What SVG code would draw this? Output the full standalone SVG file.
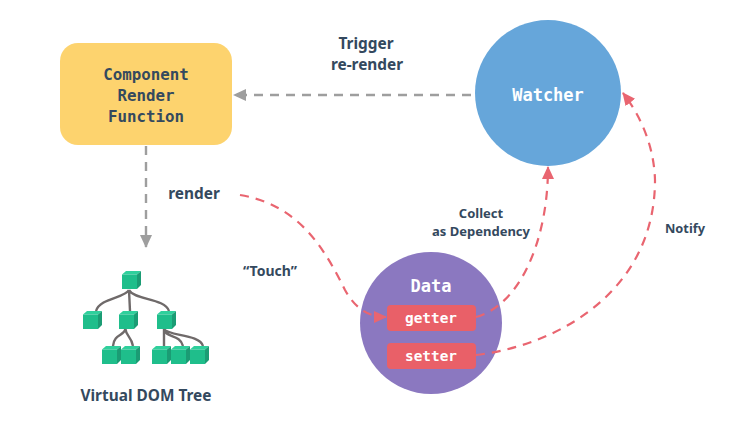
<svg xmlns="http://www.w3.org/2000/svg" width="743" height="428" viewBox="0 0 743 428">
<style>
text{text-anchor:middle}
.m{font-family:"DejaVu Sans Mono","Liberation Mono",monospace;font-weight:700}
.s{font-family:"Noto Sans","Open Sans",sans-serif;font-weight:700;fill:#34495e}
.g{fill:none;stroke:#9e9e9e;stroke-width:2.4;stroke-dasharray:9 7}
.r{fill:none;stroke:#e96570;stroke-width:2.2;stroke-dasharray:9 7}
.t{fill:none;stroke:#6f6a6a;stroke-width:2.4}
.f{fill:#1fbe8b}.p{fill:#1b9c74}.q{fill:#2fd09c}
</style>
<defs>
<marker id="ag" markerUnits="userSpaceOnUse" markerWidth="14" markerHeight="14" refX="12" refY="6" orient="auto"><path d="M0 0L13 6L0 12L0 0Z" fill="#9e9e9e"/></marker>
<marker id="ar" markerUnits="userSpaceOnUse" markerWidth="14" markerHeight="14" refX="12" refY="6" orient="auto"><path d="M0 0L13 6L0 12L0 0Z" fill="#e96570"/></marker>
<g id="cube"><path class="q" d="M0 3.500L4 0H19L15 3.500Z"/><path class="p" d="M15 3.500L19 0V14L15 18Z"/><rect class="f" x="0" y="3.500" width="15" height="14.500"/></g>
</defs>
<g id="watcher"><circle cx="548" cy="93" r="73" fill="#66a6da"/><text class="m" x="548" y="101" font-size="17" fill="#fff">Watcher</text></g>
<g id="render-function"><rect x="60" y="43" width="172" height="102" rx="18" fill="#fdd36e"/>
<text class="m" font-size="15.800" fill="#34495e"><tspan x="146" y="80">Component</tspan><tspan x="146" y="101">Render</tspan><tspan x="146" y="122">Function</tspan></text></g>
<g id="data"><circle cx="431" cy="323" r="71" fill="#8b78c0"/><text class="m" x="431" y="292" font-size="17" fill="#fff">Data</text>
<rect x="387" y="305" width="89" height="26" rx="4" fill="#e96068"/><text class="m" x="431" y="323" font-size="14.400" fill="#fff">getter</text>
<rect x="387" y="343" width="89" height="26" rx="4" fill="#e96068"/><text class="m" x="431" y="361" font-size="14.400" fill="#fff">setter</text></g>
<g id="tree">
<path class="t" d="M129 290C125 298 100 298 96 311M129 290L130 311M129 290C134 300 165 298 169 311M125.500 329C124 336 114 334 113 346M125.500 329C126 336 131 336 133 346M164 329V346M164 329C165 338 180 334 183 346M164 329C168 336 200 334 203 346"/>
<use href="#cube" x="122" y="271"/><use href="#cube" x="83" y="311"/><use href="#cube" x="119" y="311"/><use href="#cube" x="157" y="311"/>
<use href="#cube" x="102" y="346"/><use href="#cube" x="121" y="346"/><use href="#cube" x="152" y="346"/><use href="#cube" x="171" y="346"/><use href="#cube" x="190" y="346"/>
<text class="s" x="146" y="401" font-size="15.400">Virtual DOM Tree</text></g>
<g id="connectors">
<path class="g" marker-end="url(#ag)" d="M471 95H234"/>
<path class="g" marker-end="url(#ag)" d="M146 146V247"/>
<path class="r" marker-end="url(#ar)" d="M240 195C300 205 325 250 345 290C355 308 368 317 386 317"/>
<path class="r" marker-end="url(#ar)" d="M476 317C520 305 548 240 548 167"/>
<path class="r" marker-end="url(#ar)" d="M476 355C560 345 655 290 655 180C654 145 640 115 623 93"/>
</g>
<g id="labels">
<text class="s" font-size="15.400" x="366" y="49">Trigger</text><text class="s" font-size="15.400" x="367" y="70">re-render</text>
<text class="s" font-size="15.400" x="194" y="199">render</text>
<text class="s" font-size="13" x="481" y="218">Collect</text><text class="s" font-size="13" x="481" y="236">as Dependency</text>
<text class="s" font-size="12.800" x="685" y="233">Notify</text>
<text class="s" font-size="14" x="270" y="276">“Touch”</text>
</g>
</svg>
